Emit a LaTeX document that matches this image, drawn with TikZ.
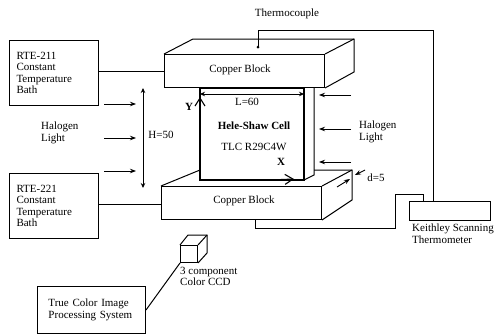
\documentclass[tikz,border=0pt]{standalone}
\usepackage{fontspec}
\setmainfont{Liberation Serif}
\usetikzlibrary{arrows.meta}
\tikzset{
	line/.style={line width=1pt},
	bathbox/.style={draw, line width=1pt, anchor=north west, text width=75pt, inner xsep=7pt, inner ysep=0pt, minimum height=65pt, align=left},
	blockface/.style={draw, line width=1pt, anchor=north west, minimum width=160pt, minimum height=33pt, inner sep=0pt},
	caption/.style={anchor=north west, inner sep=0pt, align=left},
	lamp/.style={line width=0.9pt, -{Stealth[length=6pt, width=4.5pt]}},
	measure/.style={line width=0.9pt, {Stealth[length=5pt, width=4.5pt]}-{Stealth[length=5pt, width=4.5pt]}},
	axis/.style={line width=1.1pt, -{Straight Barb[length=8pt, width=10pt]}},
	boldtext/.style={font=\fontsize{11}{11.5}\selectfont\bfseries}
}
\begin{document}
\begin{tikzpicture}[x=1pt, y=-1pt, font=\fontsize{11}{11.5}\selectfont]
	%%%%% START %%%%%
	\useasboundingbox (0, 0) rectangle (496, 335);

	% baths and image system
	\node[bathbox] (bathtop) at (9, 40) {RTE-211\\Constant\\Temperature\\Bath};
	\node[bathbox] (bathbot) at (9, 173) {RTE-221\\Constant\\Temperature\\Bath};
	\node[draw, line width=1pt, anchor=north west, text width=86pt, inner xsep=11pt, inner ysep=0pt, minimum height=47pt, align=left] (image) at (37, 286) {True Color Image\\Processing System};

	% cell
	\draw[line width=1.1pt] (200, 88) rectangle (304, 180);
	\draw[line] (304, 180) -- (314, 175) -- (314, 88);
	\node[boldtext] (cell) at (254, 126) {Hele-Shaw Cell};
	\node (tlc) at (254, 147) {TLC R29C4W};

	% copper blocks
	\node[blockface] (blocktop) at (164, 54) {};
	\node (labeltop) at (240, 70) {Copper Block};
	\draw[line] (blocktop.north west) -- (193, 39) -- (354, 39) -- (354, 72) -- (blocktop.south east);
	\draw[line] (blocktop.north east) -- (354, 39);

	\node[blockface] (blockbot) at (161, 186) {};
	\node (labelbot) at (244, 201) {Copper Block};
	\draw[line] (blockbot.north west) -- (200, 170);
	\draw[line] (314, 170) -- (352, 170) -- (352, 200) -- (blockbot.south east);
	\draw[line] (blockbot.north east) -- (352, 170);

	% pipes
	\draw[line] (bathtop.east |- 0, 71) -- (blocktop.west |- 0, 71);
	\draw[line] (bathbot.east |- 0, 204) -- (blockbot.west |- 0, 204);

	% dimensions
	\coordinate (hup) at (143, 88);
	\coordinate (hdown) at (143, 188);
	\draw[measure] (hup) -- (hdown);
	\node (hlabel) at (161, 135) {H=50};
	\coordinate (lleft) at (200, 94);
	\coordinate (lright) at (304, 94);
	\draw[measure] (lleft) -- (lright);
	\node (llabel) at (247, 102) {L=60};

	\coordinate (yfoot) at (200, 125);
	\coordinate (ytip) at (200, 97);
	\draw[axis] (yfoot) -- (ytip);
	\node[boldtext] (ylabel) at (189, 107) {Y};
	\coordinate (xfoot) at (270, 180);
	\coordinate (xtip) at (294, 179);
	\draw[axis] (xfoot) -- (xtip);
	\node[boldtext] (xlabel) at (281, 162) {X};

	% light
	\foreach \y in {104, 138, 171} {
		\coordinate (ls) at (104, \y);
		\coordinate (le) at (136, \y);
		\draw[lamp] (ls) -- (le);
	}
	\foreach \y in {95, 129, 162} {
		\coordinate (rs) at (351, \y);
		\coordinate (re) at (319, \y);
		\draw[lamp] (rs) -- (re);
	}
	\node[caption] (lightleft) at (41, 122) {Halogen\\Light};
	\node[caption] (lightright) at (359, 121) {Halogen\\Light};

	% thermometer
	\node[draw, line width=1pt, anchor=north west, minimum width=81pt, minimum height=19pt, inner sep=0pt] (keithley) at (409, 201) {};
	\node[caption] (keithleytext) at (412, 224) {Keithley Scanning\\Thermometer};
	\node (thermotext) at (287, 14) {Thermocouple};
	\coordinate (probe) at (258, 47);
	\fill (probe) circle (1.5);
	\draw[line] (probe) -- (258, 30) -- (433, 30) -- (keithley.north -| 433, 0);
	\draw[line] (blockbot.south -| 255, 0) -- (255, 228) -- (395, 228) -- (395, 194) -- (423, 194) -- (keithley.north -| 423, 0);

	% gap
	\coordinate (gapa) at (365, 170);
	\coordinate (gapb) at (355, 175);
	\draw[lamp] (gapa) -- (gapb);
	\coordinate (gapc) at (337, 187);
	\coordinate (gapd) at (350, 179);
	\draw[lamp] (gapc) -- (gapd);
	\node (gaplabel) at (376, 178) {d=5};

	% camera
	\node[draw, line width=1pt, minimum width=17pt, minimum height=17pt, inner sep=0pt, anchor=north west] (ccd) at (180, 245) {};
	\draw[line] (ccd.north west) -- (188, 235) -- (207, 235) -- (207, 253) -- (ccd.south east);
	\draw[line] (ccd.north east) -- (207, 235);
	\draw[line] (ccd.south west) -- (image.east);
	\node[caption] (ccdtext) at (180, 267) {3 component\\Color CCD};

	%%%%% END %%%%%
\end{tikzpicture}
\end{document}
